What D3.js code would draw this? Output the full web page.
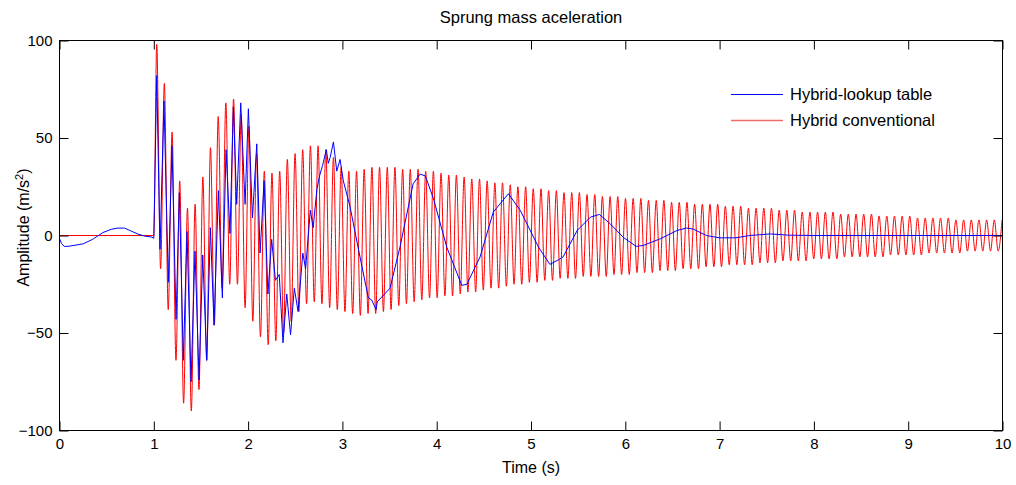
<!DOCTYPE html>
<html>
<head>
<meta charset="utf-8">
<script src="https://cdn.jsdelivr.net/npm/d3@7"></script>
<style>
  body { margin: 0; background: #fff; }
  svg text { font-family: Arial, "Liberation Sans", sans-serif; fill: #000; }
</style>
</head>
<body>
<div id="chart"></div>
<script>
var seriesNames = ["Hybrid-lookup table", "Hybrid conventional"];
var xTicks = [0, 1, 2, 3, 4, 5, 6, 7, 8, 9, 10];
var yTicks = [-100, -50, 0, 50, 100];

// hybrid-lookup table: [time (s), acceleration]
var lookupSeries = [
  [0, -1.5], [0.02, -4], [0.05, -5.6], [0.1, -5.5], [0.25, -4.3], [0.35, -2], [0.46, 1.5],
  [0.55, 3.2], [0.62, 3.8], [0.69, 3.8], [0.75, 2.5], [0.83, 0.8], [0.9, -0.3], [0.98, -0.8], [1.0, -1.5],
  [1.031, 82], [1.066, -7], [1.108, 69], [1.154, -24], [1.193, 46], [1.236, -43], [1.271, 22],
  [1.313, -64], [1.352, 2], [1.395, -75], [1.437, -8], [1.48, -74], [1.519, -10], [1.561, -64],
  [1.6, 4], [1.639, -46], [1.685, 23], [1.727, -32], [1.766, 44], [1.808, 1], [1.844, 66],
  [1.879, 16], [1.922, 68], [1.968, 16], [2.003, 65], [2.046, 9], [2.092, 47], [2.127, -9],
  [2.17, 28], [2.21, -30], [2.25, -2], [2.29, -23], [2.33, -20], [2.37, -55], [2.41, -30],
  [2.45, -51], [2.49, -27], [2.53, -39], [2.58, -9], [2.61, -17], [2.66, 13], [2.69, 4],
  [2.73, 24], [2.76, 31], [2.79, 36], [2.83, 44], [2.85, 37], [2.87, 40], [2.905, 48],
  [2.94, 33], [2.975, 39], [3.01, 28], [3.08, 15], [3.17, -7], [3.275, -32], [3.31, -33],
  [3.357, -38], [3.37, -34], [3.505, -27], [3.61, -6], [3.75, 26.5], [3.824, 31.5], [3.88, 30.5],
  [3.965, 19], [4.107, -6], [4.266, -25.6], [4.32, -25], [4.46, -11], [4.6, 12], [4.76, 21.4],
  [4.885, 13], [5.08, -6], [5.2, -14.8], [5.29, -12.5], [5.34, -11], [5.49, 2.6], [5.63, 9.4],
  [5.725, 10.8], [5.84, 6], [5.98, -1], [6.115, -5.6], [6.19, -5.1], [6.37, -1.7], [6.55, 2.6],
  [6.65, 3.8], [6.72, 3.3], [6.86, 0], [7.0, -1.2], [7.17, -1.2], [7.32, 0], [7.54, 0.8],
  [7.72, 0.2], [8.0, 0], [10, 0]
];

// hybrid conventional: flat part, then one row per cycle [t peak, peak, t trough, trough]
var conventionalLead = [[0, 0], [1.0, 0]];
var conventionalCycles = [
  [1.031, 98, 1.072, -17], [1.112, 78, 1.153, -38], [1.194, 53, 1.235, -64], [1.275, 28, 1.316, -86],
  [1.357, 14, 1.398, -90], [1.438, 16, 1.479, -79], [1.520, 30, 1.561, -64], [1.601, 45, 1.642, -46],
  [1.683, 61, 1.724, -27], [1.764, 68, 1.805, -25], [1.846, 70, 1.887, -25], [1.927, 62, 1.968, -37],
  [2.009, 56, 2.050, -44], [2.090, 42, 2.131, -52], [2.172, 33, 2.213, -56], [2.253, 32, 2.294, -54],
  [2.335, 33, 2.376, -50], [2.416, 39, 2.457, -44], [2.498, 42, 2.539, -39], [2.579, 44, 2.620, -35],
  [2.661, 46, 2.702, -34], [2.742, 46, 2.783, -35], [2.824, 44, 2.865, -37], [2.905, 40, 2.946, -38],
  [2.987, 35, 3.027, -39], [3.068, 33, 3.109, -40], [3.150, 33, 3.190, -41], [3.231, 34, 3.272, -40],
  [3.313, 35, 3.353, -40], [3.394, 35, 3.435, -39], [3.476, 35, 3.516, -38], [3.557, 35, 3.598, -36],
  [3.639, 34, 3.679, -35], [3.720, 34, 3.761, -34], [3.802, 34, 3.842, -33], [3.883, 33, 3.924, -32],
  [3.965, 33, 4.005, -32], [4.046, 32, 4.087, -31], [4.128, 31, 4.168, -31], [4.209, 31, 4.250, -30],
  [4.291, 30, 4.331, -29], [4.372, 29, 4.413, -29], [4.454, 29, 4.494, -28], [4.535, 28, 4.576, -27],
  [4.617, 27, 4.657, -27], [4.698, 27, 4.739, -26], [4.780, 26, 4.820, -25], [4.861, 25, 4.902, -25],
  [4.943, 25, 4.983, -24], [5.024, 24, 5.065, -24], [5.106, 24, 5.146, -23], [5.187, 23, 5.228, -23],
  [5.269, 23, 5.309, -22], [5.350, 22, 5.391, -22], [5.432, 22, 5.472, -22], [5.513, 22, 5.554, -21],
  [5.594, 21, 5.635, -21], [5.676, 21, 5.717, -21], [5.757, 20, 5.798, -21], [5.839, 20, 5.880, -20],
  [5.920, 20, 5.961, -20], [6.002, 19, 6.042, -20], [6.083, 19, 6.124, -19], [6.165, 19, 6.205, -19],
  [6.246, 18, 6.287, -19], [6.328, 18, 6.368, -18], [6.409, 18, 6.450, -18], [6.491, 17, 6.531, -18],
  [6.572, 17, 6.613, -17], [6.654, 17, 6.694, -17], [6.735, 16, 6.776, -17], [6.817, 16, 6.857, -16],
  [6.898, 16, 6.939, -16], [6.980, 16, 7.020, -16], [7.061, 15, 7.102, -15], [7.143, 15, 7.183, -15],
  [7.224, 15, 7.265, -15], [7.306, 14, 7.346, -15], [7.387, 14, 7.428, -14], [7.469, 14, 7.509, -14],
  [7.550, 14, 7.591, -14], [7.632, 13, 7.672, -13], [7.713, 13, 7.754, -13], [7.795, 13, 7.835, -13],
  [7.876, 12, 7.917, -13], [7.958, 12, 7.998, -12], [8.039, 12, 8.080, -12], [8.121, 12, 8.161, -12],
  [8.202, 12, 8.243, -12], [8.284, 11, 8.324, -11], [8.365, 11, 8.406, -11], [8.447, 11, 8.487, -11],
  [8.528, 11, 8.569, -11], [8.610, 11, 8.650, -11], [8.691, 10, 8.732, -11], [8.773, 10, 8.813, -10],
  [8.854, 10, 8.895, -10], [8.936, 10, 8.976, -10], [9.017, 10, 9.058, -10], [9.099, 9, 9.139, -10],
  [9.180, 9, 9.221, -9], [9.262, 9, 9.302, -9], [9.343, 9, 9.384, -9], [9.425, 9, 9.465, -9],
  [9.506, 8, 9.547, -9], [9.588, 8, 9.628, -8], [9.669, 8, 9.710, -8], [9.750, 8, 9.791, -8],
  [9.832, 8, 9.873, -8], [9.913, 8, 9.954, -8]
];
var conventionalTail = [[9.995, 8]];

(function() {
  var margin = { top: 40.5, left: 59.5, right: 13.5, bottom: 54.5 },
      totalW = 1016, totalH = 485,
      width = totalW - margin.left - margin.right,
      height = totalH - margin.top - margin.bottom;

  var svg = d3.select("#chart")
    .append("svg")
    .attr("width", totalW)
    .attr("height", totalH);

  var g = svg.append("g")
    .attr("transform", "translate(" + margin.left + "," + margin.top + ")");

  var x = d3.scaleLinear().domain([0, 10]).range([0, width]);
  var y = d3.scaleLinear().domain([-100, 100]).range([height, 0]);

  // flatten the cycle rows into one list of points
  var conventionalSeries = conventionalLead.slice();
  conventionalCycles.forEach(function(c) {
    conventionalSeries.push([c[0], c[1]]);
    conventionalSeries.push([c[2], c[3]]);
  });
  conventionalSeries = conventionalSeries.concat(conventionalTail);

  g.append("defs").append("clipPath").attr("id", "plot-clip")
    .append("rect").attr("width", width).attr("height", height);

  var lineLinear = d3.line()
    .x(function(d) { return x(d[0]); })
    .y(function(d) { return y(d[1]); });

  var lineSmooth = d3.line()
    .curve(d3.curveMonotoneX)
    .x(function(d) { return x(d[0]); })
    .y(function(d) { return y(d[1]); });

  var plot = g.append("g").attr("clip-path", "url(#plot-clip)");

  plot.append("path")
    .datum(conventionalSeries)
    .attr("fill", "none")
    .attr("stroke", "#ff0000")
    .attr("stroke-width", 1)
    .attr("d", lineSmooth);

  // blue sits on top, as in the original figure
  plot.append("path")
    .datum(lookupSeries)
    .attr("fill", "none")
    .attr("stroke", "#0000ff")
    .attr("stroke-width", 1)
    .attr("d", lineLinear);

  // axes with inward ticks on all four sides
  var fmt = d3.format("d");
  g.append("g")
    .attr("class", "axis x-axis")
    .attr("transform", "translate(0," + height + ")")
    .call(d3.axisBottom(x).tickValues(xTicks).tickFormat(fmt).tickSizeInner(-9).tickSizeOuter(0).tickPadding(8))
    .style("font-size", "15px");

  g.append("g")
    .attr("transform", "translate(0,0)")
    .call(d3.axisTop(x).tickValues(xTicks).tickFormat("").tickSizeInner(-9).tickSizeOuter(0));

  g.append("g")
    .attr("class", "axis y-axis")
    .call(d3.axisLeft(y).tickValues(yTicks).tickFormat(fmt).tickSizeInner(-9).tickSizeOuter(0).tickPadding(7))
    .style("font-size", "15px");

  g.append("g")
    .attr("transform", "translate(" + width + ",0)")
    .call(d3.axisRight(y).tickValues(yTicks).tickFormat("").tickSizeInner(-9).tickSizeOuter(0));

  g.selectAll(".domain").remove();
  g.selectAll(".tick line").attr("stroke", "#000");
  g.selectAll(".tick text").attr("font-family", "Arial, 'Liberation Sans', sans-serif");

  g.append("rect")
    .attr("width", width)
    .attr("height", height)
    .attr("fill", "none")
    .attr("stroke", "#000")
    .attr("stroke-width", 1);

  // title and axis labels
  svg.append("text")
    .attr("x", margin.left + width / 2)
    .attr("y", 23)
    .attr("text-anchor", "middle")
    .style("font-size", "16.5px")
    .text("Sprung mass aceleration");

  svg.append("text")
    .attr("x", margin.left + width / 2)
    .attr("y", 473)
    .attr("text-anchor", "middle")
    .style("font-size", "16px")
    .text("Time (s)");

  var yl = svg.append("text")
    .attr("transform", "translate(29," + (margin.top + height / 2 - 8) + ") rotate(-90)")
    .attr("text-anchor", "middle")
    .style("font-size", "16px");
  yl.append("tspan").text("Amplitude (m/s");
  yl.append("tspan").attr("baseline-shift", "super").style("font-size", "11px").text("2");
  yl.append("tspan").text(")");

  // legend (no box)
  var legendColors = ["#0000ff", "#f26b6b"];
  var legend = svg.append("g").attr("transform", "translate(731,94.5)");
  seriesNames.forEach(function(name, i) {
    var row = legend.append("g").attr("transform", "translate(0," + (i * 26) + ")");
    row.append("line")
      .attr("x1", 0).attr("x2", 52)
      .attr("stroke", legendColors[i])
      .attr("stroke-width", i === 0 ? 1 : 1.5);
    row.append("text")
      .attr("x", 59)
      .attr("dy", "0.35em")
      .style("font-size", "16.5px")
      .text(name);
  });
})();
</script>
</body>
</html>
